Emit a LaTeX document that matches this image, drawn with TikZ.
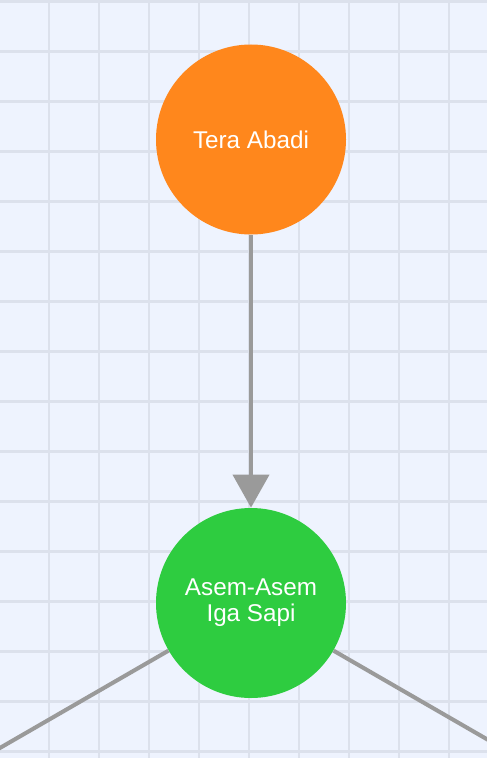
\documentclass[tikz,border=0pt]{standalone}
\usepackage{fontspec}
\setmainfont{Liberation Sans}
\usepackage{tikz}
\usetikzlibrary{arrows.meta,calc}
\definecolor{paper}{HTML}{EEF3FE}
\definecolor{gridgray}{HTML}{DCE1EC}
\definecolor{linkgray}{HTML}{9A9A9A}
\definecolor{dishorange}{HTML}{FF871C}
\definecolor{dishgreen}{HTML}{2ECC40}
\tikzset{
    dish/.style={
        circle,
        text=white,
        align=center,
        minimum size=3.8cm,
        inner sep=0pt,
        font=\fontsize{13.8}{14.8}\selectfont
    }
}
\tikzset{
    link/.style={
        draw=linkgray,
        line width=2.3pt
    }
}
\newcommand{\drawDish}[4]{\node[dish, fill=#3] (#1) at #2 {#4}}

\begin{document}
\begin{tikzpicture}

    \useasboundingbox (0,0) rectangle (9.74,-15.16);
    \clip (0,0) rectangle (9.74,-15.16);
    \fill[paper] (0,0) rectangle (9.74,-15.16);
    \draw[gridgray, line width=1.2pt, xshift=0.98cm, yshift=-0.03cm] (-1,-16) grid (9,1);

    \drawDish{top}{(5.02,-2.79)}{dishorange}{Tera Abadi};
    \drawDish{mid}{(5.02,-12.06)}{dishgreen}{Asem-Asem\\Iga Sapi};

    \coordinate (leftout) at ($(mid)+(210:8)$);
    \coordinate (rightout) at ($(mid)+(330:8)$);

    \draw[link, -{Triangle[width=0.72cm,length=0.66cm]}] (top) -- (mid);
    \draw[link] (mid) -- (leftout);
    \draw[link] (mid) -- (rightout);

\end{tikzpicture}
\end{document}
